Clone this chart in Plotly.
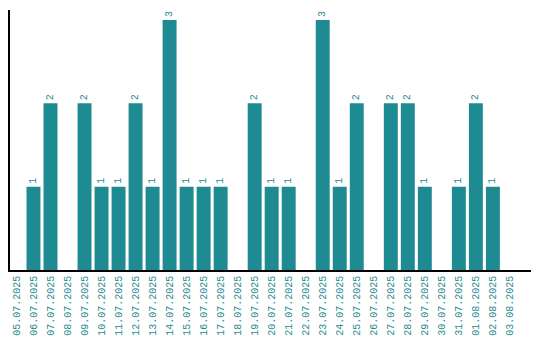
import plotly.graph_objects as go

dates = ["05.07.2025", "06.07.2025", "07.07.2025", "08.07.2025", "09.07.2025",
         "10.07.2025", "11.07.2025", "12.07.2025", "13.07.2025", "14.07.2025",
         "15.07.2025", "16.07.2025", "17.07.2025", "18.07.2025", "19.07.2025",
         "20.07.2025", "21.07.2025", "22.07.2025", "23.07.2025", "24.07.2025",
         "25.07.2025", "26.07.2025", "27.07.2025", "28.07.2025", "29.07.2025",
         "30.07.2025", "31.07.2025", "01.08.2025", "02.08.2025", "03.08.2025"]
counts = [0, 1, 2, 0, 2, 1, 1, 2, 1, 3,
          1, 1, 1, 0, 2, 1, 1, 0, 3, 1,
          2, 0, 2, 2, 1, 0, 1, 2, 1, 0]

teal = "#1e8b92"
labels = [str(v) if v > 0 else "" for v in counts]

fig = go.Figure(go.Bar(
    x=list(range(len(dates))), y=counts, text=labels,
    textposition="outside", textangle=-90,
    textfont=dict(family="Liberation Mono", size=10, color=teal),
    marker=dict(color=teal, line=dict(width=0)),
    cliponaxis=False, hoverinfo="skip",
))
fig.update_layout(
    width=540, height=340,
    margin=dict(l=10, r=9, t=10, b=70, autoexpand=False),
    paper_bgcolor="white", plot_bgcolor="white",
    bargap=0.18, showlegend=False,
    font=dict(family="Liberation Mono", size=10, color=teal),
)
fig.update_xaxes(
    tickmode="array", tickvals=list(range(len(dates))), ticktext=dates,
    tickangle=-90, range=[-0.38, 30.24], showgrid=False, zeroline=False,
    showline=True, linecolor="black", linewidth=1.5, ticks="", automargin=False,
    tickfont=dict(family="Liberation Mono", size=10, color=teal),
)
fig.update_yaxes(
    range=[0, 3.12], showgrid=False, zeroline=False, showticklabels=False,
    showline=True, linecolor="black", linewidth=1.5, ticks="", automargin=False,
)
fig.write_html("out.html", config={"displayModeBar": False},
               post_script="document.body.style.margin='0';")
